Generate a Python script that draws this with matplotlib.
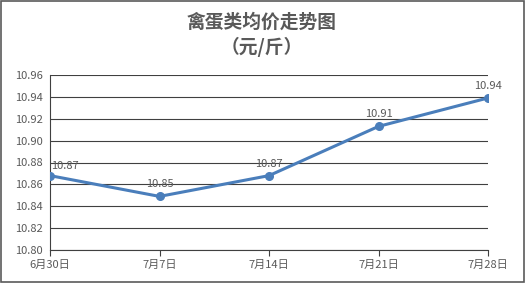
import matplotlib
matplotlib.use('Agg')
import matplotlib.pyplot as plt
from matplotlib.patches import Rectangle

plt.rcParams['font.family'] = ['Noto Sans CJK SC', 'DejaVu Sans']

# data
dates  = ['6月30日', '7月7日', '7月14日', '7月21日', '7月28日']
prices = [10.868, 10.849, 10.868, 10.913, 10.939]
labels = ['10.87', '10.85', '10.87', '10.91', '10.94']
yticks = [10.80, 10.82, 10.84, 10.86, 10.88, 10.90, 10.92, 10.94, 10.96]

LINE_COLOR = '#4A7EBB'
TEXT_COLOR = '#595959'
GRID_COLOR = '#404040'

fig = plt.figure(figsize=(5.25, 2.83), dpi=100)
ax = fig.add_axes([50/525, 1 - 250/283, 438/525, 175/283])

x = list(range(len(dates)))
ax.plot(x, prices, color=LINE_COLOR, linewidth=2.2, marker='o', markersize=5.5,
        solid_capstyle='round', zorder=3)

for i, (xv, yv, lab) in enumerate(zip(x, prices, labels)):
    if i == 0:
        ax.annotate(lab, (xv, yv), xytext=(1, 3), textcoords='offset points',
                    ha='left', va='bottom', fontsize=8, color=TEXT_COLOR)
    else:
        ax.annotate(lab, (xv, yv), xytext=(0, 5), textcoords='offset points',
                    ha='center', va='bottom', fontsize=8, color=TEXT_COLOR)

ax.set_xlim(0, len(dates) - 1)
ax.set_ylim(10.80, 10.96)
ax.set_yticks(yticks)
ax.set_yticklabels([f'{v:.2f}' for v in yticks])
ax.set_xticks(x)
ax.set_xticklabels(dates)

ax.grid(axis='y', color=GRID_COLOR, linewidth=0.8)
ax.set_axisbelow(True)
for s in ['top', 'right']:
    ax.spines[s].set_visible(False)
ax.spines['left'].set_color(GRID_COLOR)
ax.spines['bottom'].set_color(GRID_COLOR)
ax.spines['left'].set_linewidth(0.8)
ax.spines['bottom'].set_linewidth(0.8)
ax.tick_params(axis='y', length=0, labelsize=8, labelcolor=TEXT_COLOR, pad=5)
ax.tick_params(axis='x', length=4, width=0.8, color=GRID_COLOR, direction='out',
               labelsize=8, labelcolor=TEXT_COLOR, pad=3)

fig.text(262/525, 1 - 22/283, '禽蛋类均价走势图', ha='center', va='center',
         fontsize=13.5, fontweight='bold', color=TEXT_COLOR)
fig.text(262/525, 1 - 47/283, '（元/斤）', ha='center', va='center',
         fontsize=13.5, fontweight='bold', color=TEXT_COLOR)

fig.patches.append(Rectangle((0.001, 0.002), 0.997, 0.995, transform=fig.transFigure,
                             fill=False, edgecolor='#5a5a5a', linewidth=1.2))

fig.savefig('out.png', dpi=100, facecolor='white')
